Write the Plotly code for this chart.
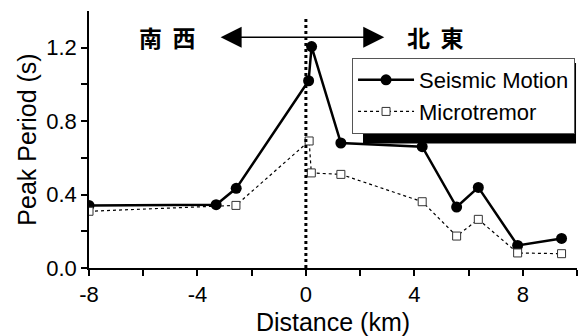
import plotly.graph_objects as go

# Data
seis_x = [-8.0, -3.31, -2.57, 0.1, 0.21, 1.29, 4.29, 5.56, 6.36, 7.81, 9.43]
seis_y = [0.341, 0.345, 0.434, 1.02, 1.206, 0.681, 0.661, 0.332, 0.439, 0.123, 0.161]

micro_x = [-8.0, -2.58, 0.12, 0.2, 1.29, 4.29, 5.56, 6.36, 7.81, 9.43]
micro_y = [0.309, 0.341, 0.692, 0.518, 0.510, 0.361, 0.174, 0.265, 0.082, 0.078]

x_ticks = [-8, -4, 0, 4, 8]
x_tick_labels = ["-8", "-4", "0", "4", "8"]
y_ticks = [0.0, 0.4, 0.8, 1.2]
y_tick_labels = ["0.0", "0.4", "0.8", "1.2"]

FONT = "Liberation Sans, Arial, sans-serif"
CJK = "Noto Sans CJK JP"

fig = go.Figure()
fig.add_trace(go.Scatter(
    x=seis_x, y=seis_y, name="Seismic Motion", mode="lines+markers",
    line=dict(color="black", width=2.5),
    marker=dict(symbol="circle", size=11, color="black"),
))
fig.add_trace(go.Scatter(
    x=micro_x, y=micro_y, name="Microtremor", mode="lines+markers",
    line=dict(color="black", width=1.2, dash="dot"),
    marker=dict(symbol="square", size=8, color="white", line=dict(color="#333", width=1)),
))

# vertical dotted line at 0
fig.add_shape(type="line", xref="x", yref="y", x0=0, x1=0, y0=0, y1=1.37,
              line=dict(color="black", width=3, dash="dot"), layer="above")

# legend shadow (only the bottom strip peeks out, as in the reference)
fig.add_shape(type="rect", xref="paper", yref="paper",
              x0=0.5615, x1=0.998, y0=0.484, y1=0.798,
              fillcolor="black", line=dict(width=0), layer="above")

# double-headed arrow
fig.add_annotation(x=2.89, y=1.257, ax=-3.2, ay=1.257, xref="x", yref="y",
                   axref="x", ayref="y", text="", showarrow=True,
                   arrowhead=2, startarrowhead=2, arrowside="end+start",
                   arrowwidth=1.5, arrowsize=2.8, startarrowsize=2.8,
                   arrowcolor="black")
fig.add_annotation(x=-5.13, y=1.257, xref="x", yref="y", text="<b>南\u00a0\u00a0西</b>",
                   showarrow=False, font=dict(family=CJK, size=23, color="black"))
fig.add_annotation(x=4.76, y=1.257, xref="x", yref="y", text="<b>北\u00a0\u00a0東</b>",
                   showarrow=False, font=dict(family=CJK, size=23, color="black"))

fig.update_layout(
    width=582, height=336,
    margin=dict(l=89, r=5, t=11, b=68),
    paper_bgcolor="white", plot_bgcolor="white",
    font=dict(family=FONT, color="black"),
    showlegend=True,
    legend=dict(x=0.539, y=0.817, xanchor="left", yanchor="top",
                bgcolor="white", bordercolor="#555", borderwidth=1,
                font=dict(family=FONT, size=22, color="black"),
                itemwidth=56, tracegroupgap=0),
    xaxis=dict(range=[-8, 10], tickvals=x_ticks, ticktext=x_tick_labels,
               ticks="outside", ticklen=6, automargin=False,
               tickwidth=1.5, tickcolor="black", showline=True, linecolor="black",
               linewidth=1.5, showgrid=False, zeroline=False,
               tickfont=dict(size=22),
               minor=dict(tickvals=[-6, -2, 2, 6, 10], ticks="outside", ticklen=6,
                          tickwidth=1.5, tickcolor="black", showgrid=False),
               title=dict(text="Distance (km)", font=dict(size=25), standoff=7)),
    yaxis=dict(range=[0, 1.4], tickvals=y_ticks, ticktext=y_tick_labels,
               ticks="outside", ticklen=6, tickwidth=1.5, tickcolor="black",
               automargin=False,
               showline=True, linecolor="black", linewidth=1.5, showgrid=False,
               zeroline=False, tickfont=dict(size=22),
               minor=dict(tickvals=[0.2, 0.6, 1.0], ticks="outside", ticklen=6,
                          tickwidth=1.5, tickcolor="black", showgrid=False),
               title=dict(text="Peak Period (s)", font=dict(size=25), standoff=3)),
)

fig.write_html("out.html", config={"displayModeBar": False},
               post_script="document.body.style.margin='0';")
